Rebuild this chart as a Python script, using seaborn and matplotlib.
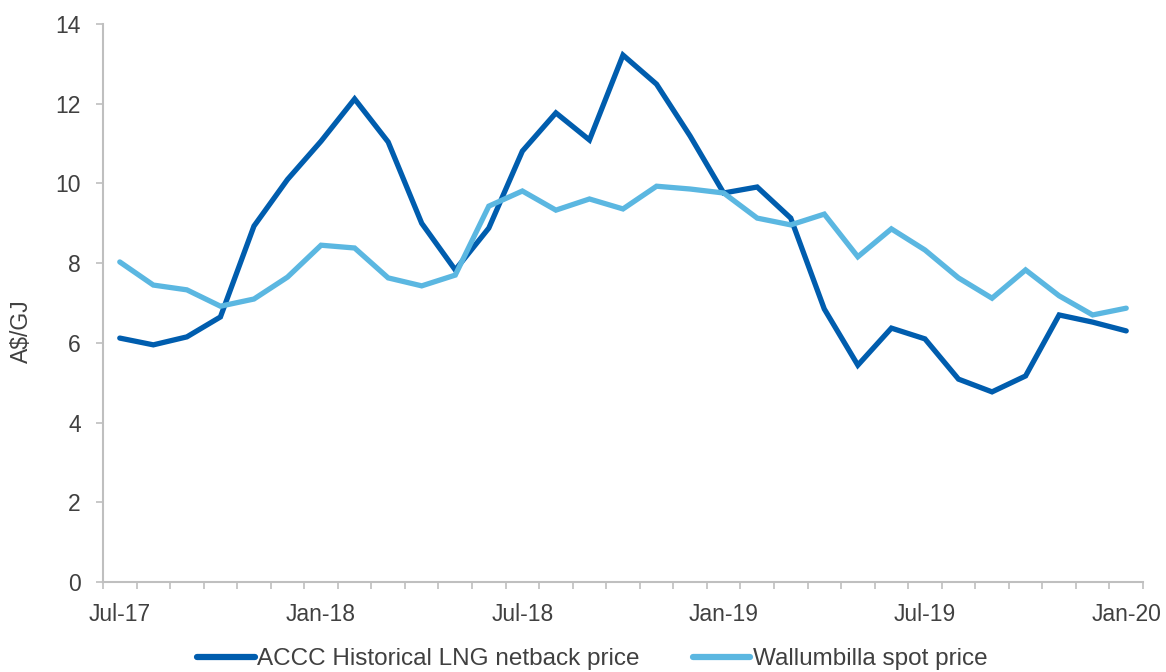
import matplotlib
matplotlib.use("Agg")
import matplotlib.pyplot as plt
import seaborn as sns
import pandas as pd
import numpy as np

months = ["Jul-17", "Aug-17", "Sep-17", "Oct-17", "Nov-17", "Dec-17",
          "Jan-18", "Feb-18", "Mar-18", "Apr-18", "May-18", "Jun-18",
          "Jul-18", "Aug-18", "Sep-18", "Oct-18", "Nov-18", "Dec-18",
          "Jan-19", "Feb-19", "Mar-19", "Apr-19", "May-19", "Jun-19",
          "Jul-19", "Aug-19", "Sep-19", "Oct-19", "Nov-19", "Dec-19",
          "Jan-20"]

accc_netback = [6.12, 5.95, 6.15, 6.65, 8.93, 10.10, 11.06, 12.12, 11.04, 9.00,
                7.83, 8.88, 10.81, 11.77, 11.09, 13.22, 12.49, 11.19, 9.76, 9.91,
                9.13, 6.85, 5.44, 6.37, 6.10, 5.09, 4.77, 5.17, 6.70, 6.52, 6.30]

wallumbilla = [8.03, 7.45, 7.33, 6.92, 7.10, 7.65, 8.45, 8.38, 7.63, 7.43,
               7.70, 9.43, 9.81, 9.33, 9.61, 9.36, 9.93, 9.86, 9.76, 9.13,
               8.96, 9.23, 8.16, 8.86, 8.33, 7.63, 7.12, 7.83, 7.18, 6.70, 6.87]

series_names = ["ACCC Historical LNG netback price", "Wallumbilla spot price"]
tick_labels = ["Jul-17", "Jan-18", "Jul-18", "Jan-19", "Jul-19", "Jan-20"]

df = pd.DataFrame({
    "month": months * 2,
    "idx": list(range(len(months))) * 2,
    "value": accc_netback + wallumbilla,
    "series": [series_names[0]] * len(months) + [series_names[1]] * len(months),
})

sns.set_theme(style="white")
plt.rcParams["font.family"] = ["Liberation Sans", "DejaVu Sans"]
text_color = "#404040"
grey = "#BFBFBF"

fig = plt.figure(figsize=(11.66, 6.72), dpi=100)
ax = fig.add_axes([103 / 1166, 90 / 672, 1040 / 1166, 558 / 672])

palette = {series_names[0]: "#005DAE", series_names[1]: "#5BB7E1"}
sns.lineplot(data=df, x="idx", y="value", hue="series", palette=palette,
             linewidth=3.8, ax=ax, legend=True, sort=False)
for line in ax.lines:
    line.set_solid_capstyle("round")
    line.set_solid_joinstyle("miter")

n = len(months)
ax.set_xlim(-0.5, n - 0.5)
ax.set_ylim(0, 14)
ax.set_yticks(np.arange(0, 15, 2))
ax.set_yticklabels([str(v) for v in range(0, 15, 2)])
major_pos = [months.index(t) for t in tick_labels]
ax.set_xticks(major_pos)
ax.set_xticklabels(tick_labels)
ax.set_xticks(np.arange(-0.5, n, 1.0), minor=True)

ax.tick_params(axis="x", which="major", length=0, pad=15, labelsize=16.5, colors=text_color)
ax.tick_params(axis="x", which="minor", length=5, width=1.2, color=grey, direction="out", bottom=True)
ax.tick_params(axis="y", which="major", length=5, width=1.2, color=grey, direction="out",
               pad=11, labelsize=16.5, labelcolor=text_color, left=True)

for s in ["top", "right"]:
    ax.spines[s].set_visible(False)
for s in ["left", "bottom"]:
    ax.spines[s].set_color(grey)
    ax.spines[s].set_linewidth(1.5)

ax.set_xlabel("")
ax.set_ylabel("A$/GJ", fontsize=16.5, color=text_color)
ax.yaxis.set_label_coords(-0.067, 0.45)

ax.get_legend().remove()
handles = ax.lines[:2]
leg = fig.legend(handles, series_names, loc="center", bbox_to_anchor=(0.508, 13 / 672),
                 ncol=2, frameon=False, fontsize=17.5, handlelength=2.35,
                 handletextpad=0.1, columnspacing=2.2, labelcolor=text_color,
                 borderpad=0.0, borderaxespad=0.0)
for lh in leg.get_lines():
    lh.set_linewidth(4.5)

fig.savefig("out.png", dpi=100)
